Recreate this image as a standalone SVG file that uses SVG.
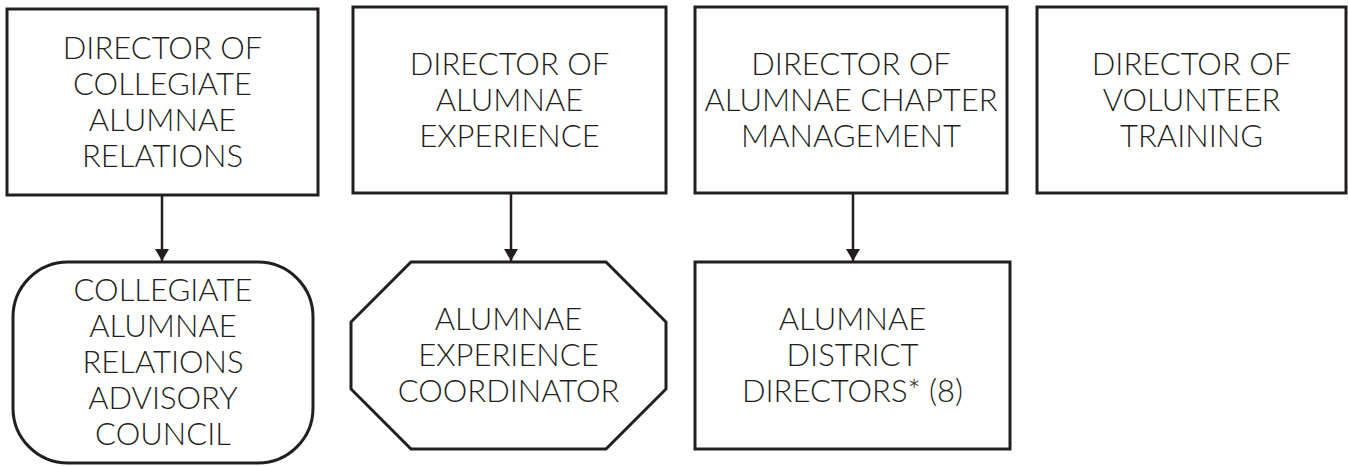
<svg xmlns="http://www.w3.org/2000/svg" width="1348" height="466" viewBox="0 0 1348 466">
<style>
.box{fill:#fff;stroke:#231f20;stroke-width:3}
.lbl{font-family:Lato,"Liberation Sans",Arial,sans-serif;font-weight:300;font-size:31px;fill:#231f20;text-anchor:middle}
.conn{stroke:#231f20;stroke-width:2.5;fill:none;marker-end:url(#arr)}
</style>
<defs>
<marker id="arr" viewBox="0 0 12 18" refX="12" refY="9" markerWidth="12" markerHeight="18" markerUnits="userSpaceOnUse" orient="auto">
<path d="M0,2 L12,9 L0,16 Z" fill="#231f20"/>
</marker>
</defs>
<rect width="1348" height="466" fill="#fff"/>
<g id="connectors">
<line class="conn" x1="162" y1="195" x2="162" y2="261"/>
<line class="conn" x1="511" y1="193" x2="511" y2="261"/>
<line class="conn" x1="853" y1="193" x2="853" y2="261"/>
</g>
<g id="n1">
<rect class="box" x="7" y="9" width="311" height="186"/>
<text class="lbl"><tspan x="162.5" y="59">DIRECTOR OF</tspan><tspan x="162.5" y="95">COLLEGIATE</tspan><tspan x="162.5" y="131">ALUMNAE</tspan><tspan x="162.5" y="167">RELATIONS</tspan></text>
</g>
<g id="n2">
<rect class="box" x="353" y="7" width="313" height="186"/>
<text class="lbl"><tspan x="509.5" y="75">DIRECTOR OF</tspan><tspan x="509.5" y="111">ALUMNAE</tspan><tspan x="509.5" y="147">EXPERIENCE</tspan></text>
</g>
<g id="n3">
<rect class="box" x="695" y="7" width="312" height="186"/>
<text class="lbl"><tspan x="851" y="75">DIRECTOR OF</tspan><tspan x="851" y="111">ALUMNAE CHAPTER</tspan><tspan x="851" y="147">MANAGEMENT</tspan></text>
</g>
<g id="n4">
<rect class="box" x="1037" y="7" width="309" height="186"/>
<text class="lbl"><tspan x="1191.5" y="75">DIRECTOR OF</tspan><tspan x="1191.5" y="111">VOLUNTEER</tspan><tspan x="1191.5" y="147">TRAINING</tspan></text>
</g>
<g id="n5">
<rect class="box" x="13" y="262" width="300" height="201" rx="55" ry="55"/>
<text class="lbl"><tspan x="163" y="301">COLLEGIATE</tspan><tspan x="163" y="337">ALUMNAE</tspan><tspan x="163" y="373">RELATIONS</tspan><tspan x="163" y="409">ADVISORY</tspan><tspan x="163" y="445">COUNCIL</tspan></text>
</g>
<g id="n6">
<polygon class="box" points="411,262 606,262 666,322 666,389 606,449 411,449 351,389 351,322"/>
<text class="lbl"><tspan x="508.5" y="330">ALUMNAE</tspan><tspan x="508.5" y="366">EXPERIENCE</tspan><tspan x="508.5" y="402">COORDINATOR</tspan></text>
</g>
<g id="n7">
<rect class="box" x="695" y="262" width="315" height="187"/>
<text class="lbl"><tspan x="852.5" y="330">ALUMNAE</tspan><tspan x="852.5" y="366">DISTRICT</tspan><tspan x="852.5" y="402">DIRECTORS* (8)</tspan></text>
</g>
</svg>
